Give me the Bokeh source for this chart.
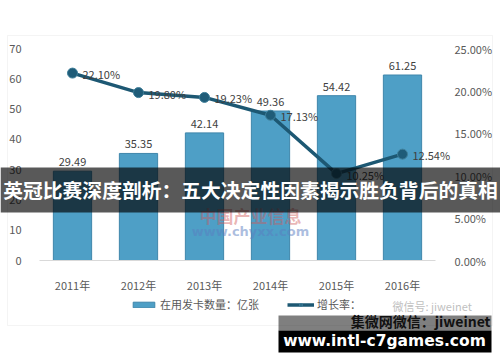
from bokeh.plotting import figure
from bokeh.models import (Range1d, LinearAxis, ColumnDataSource, Label,
                          BoxAnnotation, Legend, LegendItem, PrintfTickFormatter, FixedTicker)
from bokeh.core.properties import value
from bokeh.embed import file_html
from bokeh.resources import INLINE

years = ["2011年", "2012年", "2013年", "2014年", "2015年", "2016年"]
cards = [29.49, 35.35, 42.14, 49.36, 54.42, 61.25]
growth = [22.10, 19.80, 19.23, 17.13, 10.25, 12.54]
card_labels = ["29.49", "35.35", "42.14", "49.36", "54.42", "61.25"]
growth_labels = ["22.10%", "19.80%", "19.23%", "17.13%", "10.25%", "12.54%"]
left_ticks = [0, 10, 20, 30, 40, 50, 60, 70]
right_ticks = [0, 5, 10, 15, 20, 25]

FONT = "Noto Sans CJK SC"
W, H = 500, 362
# plot-area box of the chart inside the canvas (pixels)
PL, PR, PT, PB = 39, 435, 48, 260
n = len(years)
ppx = (PR - PL) / n                     # pixels per category
ymax_l, ymax_r = 70.0, 25.0
ppy_l = (PB - PT) / ymax_l
ppy_r = (PB - PT) / ymax_r

x_range = Range1d(-PL / ppx, n + (W - PR) / ppx)
y_range = Range1d(-(H - PB) / ppy_l, ymax_l + PT / ppy_l)
pct_range = Range1d(-(H - PB) / ppy_r, ymax_r + PT / ppy_r)

p = figure(width=W, height=H, x_range=x_range, y_range=y_range,
           output_backend="svg", toolbar_location=None,
           x_axis_location=None, y_axis_location=None,
           min_border=0, min_border_left=0, min_border_right=0,
           min_border_top=0, min_border_bottom=0)
p.outline_line_color = None
p.grid.visible = False
p.background_fill_color = "white"
p.border_fill_color = "white"
p.extra_y_ranges = {"pct": pct_range}

def sy(v):
    return H - v

# outer chart border
p.add_layout(BoxAnnotation(left=7, right=492, top=sy(35), bottom=sy(325),
                           left_units="screen", right_units="screen",
                           top_units="screen", bottom_units="screen",
                           fill_alpha=0, line_color="#D9D9D9", line_width=1, level="underlay"))

xs = [i + 0.5 for i in range(n)]
src = ColumnDataSource(dict(x=xs, yr=years, y=cards, lab=card_labels, g=growth, gl=growth_labels))

bars = p.vbar(x="x", top="y", width=0.58, source=src, fill_color="#4E9FC6",
              line_color="#3F86AB", line_width=1)
ln = p.line(x="x", y="g", source=src, y_range_name="pct", line_color="#1D5873", line_width=3.5)
pts = p.scatter(x="x", y="g", source=src, y_range_name="pct", size=10,
                fill_color="#1F5C78", line_color="#3F7F9A", line_width=1)

p.text(x="x", y="y", text="lab", source=src, text_align="center", text_baseline="bottom",
       y_offset=-5, text_font=value(FONT), text_font_size="11px", text_color="#404040")
p.text(x="x", y="g", text="gl", source=src, y_range_name="pct", text_align="left",
       text_baseline="middle", x_offset=10, y_offset=1, text_font=value(FONT),
       text_font_size="11px", text_color="#404040")

def style(ax):
    ax.major_tick_line_color = None
    ax.minor_tick_line_color = None
    ax.major_label_text_font = FONT
    ax.major_label_text_font_size = "11px"
    ax.major_label_text_color = "#595959"

# category axis
ax = LinearAxis(fixed_location=0, bounds=(0, n), ticker=FixedTicker(ticks=xs),
                major_label_overrides={x: yr for x, yr in zip(xs, years)})
style(ax)
ax.axis_line_color = "#D9D9D9"
ax.major_label_standoff = 10
p.add_layout(ax, "below")

ay = LinearAxis(fixed_location=0, bounds=(0, ymax_l), ticker=FixedTicker(ticks=left_ticks))
style(ay)
ay.axis_line_color = None
ay.major_label_standoff = 12
p.add_layout(ay, "left")

ar = LinearAxis(y_range_name="pct", fixed_location=n, bounds=(0, ymax_r),
                ticker=FixedTicker(ticks=right_ticks),
                formatter=PrintfTickFormatter(format="%.2f%%"))
style(ar)
ar.axis_line_color = None
ar.major_label_standoff = 13
p.add_layout(ar, "right")

legend = Legend(items=[LegendItem(label="在用发卡数量：亿张", renderers=[bars]),
                       LegendItem(label="增长率：", renderers=[ln, pts])],
                orientation="horizontal", location=(130, sy(312)),
                label_text_font=FONT, label_text_font_size="11px", label_text_color="#595959",
                glyph_width=27, glyph_height=7, spacing=28, padding=0, margin=0,
                label_standoff=3, border_line_color=None, background_fill_alpha=0)
p.add_layout(legend, "center")

# faint watermark of source
p.add_layout(Label(x=250, y=sy(215), x_units="screen", y_units="screen", text="中国产业信息",
                   text_align="center", text_baseline="middle", text_font=FONT,
                   text_font_size="17px", text_font_style="bold", text_color="#D05A5A",
                   text_alpha=0.45))
p.add_layout(Label(x=250, y=sy(231), x_units="screen", y_units="screen", text="www.chyxx.com",
                   text_align="center", text_baseline="middle", text_font="DejaVu Sans",
                   text_font_size="13px", text_font_style="bold", text_color="#5A7EC0",
                   text_alpha=0.5))
p.add_layout(Label(x=392, y=sy(305), x_units="screen", y_units="screen", text="微信号: jiweinet",
                   text_align="left", text_baseline="middle", text_font=FONT,
                   text_font_size="11px", text_color="#BFBFBF"))

# banner overlay
p.add_layout(BoxAnnotation(left=0, right=500, top=sy(167), bottom=sy(212),
                           left_units="screen", right_units="screen",
                           top_units="screen", bottom_units="screen",
                           fill_color="black", fill_alpha=0.65, line_color=None))
p.add_layout(Label(x=250, y=sy(189), x_units="screen", y_units="screen",
                   text="英冠比赛深度剖析：五大决定性因素揭示胜负背后的真相",
                   text_align="center", text_baseline="middle", text_font=FONT,
                   text_font_size="19.8px", text_font_style="bold", text_color="white"))

# bottom watermark box
p.add_layout(BoxAnnotation(left=278, right=491, top=sy(315), bottom=sy(330),
                           left_units="screen", right_units="screen",
                           top_units="screen", bottom_units="screen",
                           fill_color="black", fill_alpha=0.5, line_color=None))
p.add_layout(Label(x=490, y=sy(320), x_units="screen", y_units="screen", text="集微网微信：jiweinet",
                   text_align="right", text_baseline="middle", text_font=FONT,
                   text_font_size="14px", text_font_style="bold", text_color="#111111"))
p.add_layout(BoxAnnotation(left=278, right=491, top=sy(330), bottom=sy(352),
                           left_units="screen", right_units="screen",
                           top_units="screen", bottom_units="screen",
                           fill_color="black", fill_alpha=1, line_color=None))
p.add_layout(Label(x=384, y=sy(340), x_units="screen", y_units="screen", text="www.intl-c7games.com",
                   text_align="center", text_baseline="middle", text_font="DejaVu Sans",
                   text_font_size="15.5px", text_font_style="bold", text_color="white"))

open("out.html", "w").write(file_html(p, INLINE))
